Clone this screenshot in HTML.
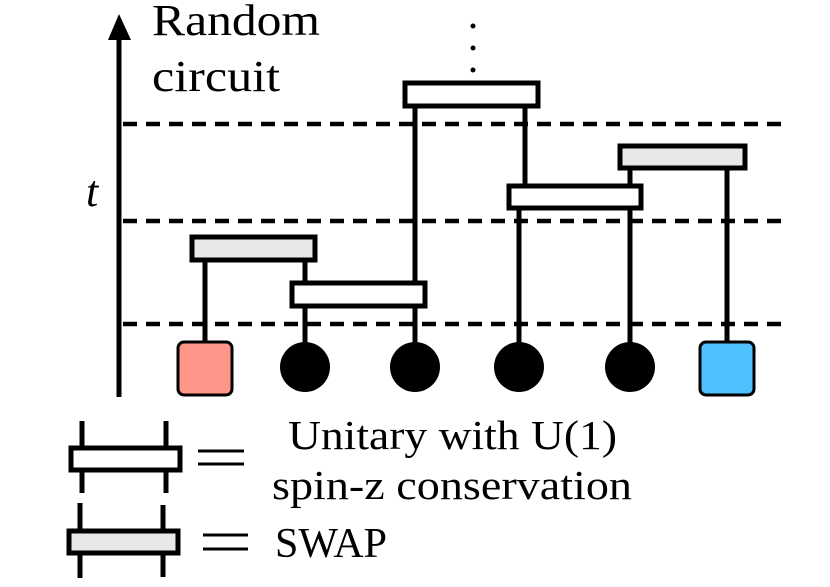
<!DOCTYPE html>
<html><head><style>
body{margin:0;background:#fff;}
svg{display:block;}
</style></head><body>
<svg width="830" height="587" viewBox="0 0 830 587" xmlns="http://www.w3.org/2000/svg">
<line x1="119" y1="38" x2="119" y2="397" stroke="#000" stroke-width="5"/>
<polygon points="119,14 108,40 131,40" fill="#000"/>
<g font-family="'Liberation Serif', 'DejaVu Serif', serif" fill="#000">
<text x="152" y="35" font-size="44" textLength="168" lengthAdjust="spacingAndGlyphs">Random</text>
<text x="152" y="91" font-size="44" textLength="128" lengthAdjust="spacingAndGlyphs">circuit</text>
<text x="86" y="206" font-size="44" font-style="italic">t</text>
<text x="288" y="449" font-size="41" textLength="329" lengthAdjust="spacingAndGlyphs">Unitary with U(1)</text>
<text x="272" y="499" font-size="41" textLength="360" lengthAdjust="spacingAndGlyphs">spin-z conservation</text>
<text x="275" y="557" font-size="42">SWAP</text>
</g>
<g stroke="#000" stroke-width="4.5" stroke-dasharray="14,9">
<line x1="123" y1="124" x2="785" y2="124"/>
<line x1="123" y1="221" x2="785" y2="221"/>
<line x1="123" y1="324" x2="785" y2="324"/>
</g>
<circle cx="473" cy="26" r="2.5"/><circle cx="473" cy="48" r="2.5"/><circle cx="473" cy="70" r="2.5"/>
<g stroke="#000" stroke-width="5">
<line x1="205" y1="261" x2="205" y2="344"/>
<line x1="305" y1="261" x2="305" y2="282"/>
<line x1="305" y1="308" x2="305" y2="360"/>
<line x1="415" y1="108" x2="415" y2="282"/>
<line x1="415" y1="308" x2="415" y2="360"/>
<line x1="525" y1="108" x2="525" y2="185"/>
<line x1="519" y1="210" x2="519" y2="360"/>
<line x1="630" y1="170" x2="630" y2="185"/>
<line x1="630" y1="210" x2="630" y2="360"/>
<line x1="727" y1="170" x2="727" y2="344"/>
</g>
<g stroke="#000" stroke-width="5">
<rect x="192" y="237" width="123" height="23" fill="#e8e8e8"/>
<rect x="292" y="283" width="133" height="23" fill="#fff"/>
<rect x="405" y="83" width="133" height="23" fill="#fff"/>
<rect x="509" y="186" width="132" height="22" fill="#fff"/>
<rect x="620" y="146" width="125" height="22" fill="#e8e8e8"/>
</g>
<rect x="178" y="342" width="54" height="53" rx="6" fill="#ff968a" stroke="#000" stroke-width="3"/>
<rect x="700" y="342" width="54" height="53" rx="6" fill="#4fc1ff" stroke="#000" stroke-width="3"/>
<circle cx="305" cy="367" r="25"/>
<circle cx="415" cy="367" r="25"/>
<circle cx="519" cy="367" r="25"/>
<circle cx="630" cy="367" r="25"/>
<g stroke="#000" stroke-width="5">
<line x1="82" y1="421" x2="82" y2="493"/>
<line x1="166" y1="421" x2="166" y2="493"/>
<rect x="71" y="448" width="109" height="22" fill="#fff"/>
<line x1="80" y1="503" x2="80" y2="578"/>
<line x1="163" y1="505" x2="163" y2="577"/>
<rect x="69" y="531" width="109" height="22" fill="#e8e8e8"/>
</g>
<g stroke="#000" stroke-width="3">
<line x1="198" y1="451" x2="244" y2="451"/>
<line x1="198" y1="464" x2="244" y2="464"/>
<line x1="203" y1="535" x2="248" y2="535"/>
<line x1="203" y1="549" x2="248" y2="549"/>
</g>
</svg>
</body></html>
